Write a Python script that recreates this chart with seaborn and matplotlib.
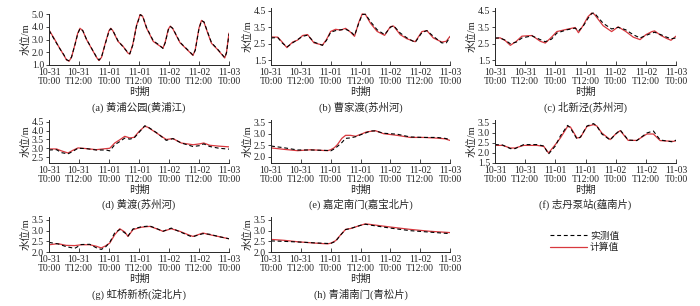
import matplotlib
matplotlib.use("Agg")
import matplotlib.pyplot as plt
from matplotlib.lines import Line2D
import seaborn as sns

# ---------------- data (hours since 10-31 T0:00, water level m) ----------------
x_ticks = [0, 12, 24, 36, 48, 60, 72]
x_labels = ["10-31\nT0:00", "10-31\nT12:00", "11-01\nT0:00", "11-01\nT12:00",
            "11-02\nT0:00", "11-02\nT12:00", "11-03\nT0:00"]

t_a = [0, 2, 4, 6, 7, 8, 9, 10.5, 11.5, 12.4, 13.5, 15, 17, 19, 20, 21, 22.5, 24, 24.7, 25.5,
       27.6, 29.5, 31.5, 32.3, 33.5, 35, 36.5, 37.5, 39, 41.7, 43.5, 45.6, 46.5, 47.7, 48.5, 49.5,
       52.4, 55, 57.6, 58.5, 60, 61, 62, 63.5, 65, 67.5, 70.3, 71, 72]
calc_a = [3.75, 3.1, 2.4, 1.75, 1.4, 1.3, 1.6, 2.7, 3.5, 3.88, 3.7, 3.0, 2.3, 1.6, 1.35, 1.6, 2.7, 3.7, 3.88, 3.7,
          2.85, 2.5, 1.95, 1.85, 2.6, 4.1, 4.98, 4.8, 3.9, 2.85, 2.6, 2.33, 2.8, 3.8, 4.05, 3.85,
          2.75, 2.25, 1.75, 2.2, 3.9, 4.5, 4.35, 3.5, 2.7, 2.2, 1.55, 2.0, 3.5]
meas_a = [3.72, 3.05, 2.38, 1.78, 1.42, 1.33, 1.62, 2.68, 3.45, 3.85, 3.7, 3.02, 2.32, 1.63, 1.38, 1.62, 2.65, 3.65, 3.85, 3.72,
          2.9, 2.45, 2.0, 1.88, 2.55, 4.05, 4.95, 4.82, 3.95, 2.9, 2.65, 2.3, 2.75, 3.75, 4.02, 3.88,
          2.78, 2.28, 1.78, 2.15, 3.85, 4.48, 4.38, 3.55, 2.75, 2.22, 1.58, 1.95, 3.45]

t_b = [0, 2.7, 4.5, 6.4, 8.7, 10.7, 12.7, 14.7, 17.3, 20.7, 22.3, 24, 26, 28, 30, 32, 33.6, 35.3, 36.7, 38,
       40, 42.7, 45.7, 48, 49.3, 52, 54.7, 58, 60.7, 62.7, 65.3, 68.7, 70.5, 72]
calc_b = [2.91, 2.9, 2.6, 2.26, 2.6, 2.72, 3.0, 3.06, 2.55, 2.42, 2.75, 3.25, 3.38, 3.33, 3.44, 3.2, 2.95, 3.8, 4.32, 4.28,
          3.75, 3.25, 3.01, 3.54, 3.58, 3.05, 2.8, 2.62, 3.24, 3.3, 2.85, 2.6, 2.65, 2.95]
meas_b = [2.85, 2.88, 2.55, 2.3, 2.55, 2.75, 2.95, 3.02, 2.6, 2.4, 2.7, 3.2, 3.3, 3.35, 3.38, 3.25, 3.0, 3.75, 4.28, 4.3,
          3.85, 3.35, 3.05, 3.5, 3.6, 3.15, 2.85, 2.58, 3.18, 3.3, 2.95, 2.55, 2.55, 2.9]

t_c = [0, 2, 4, 6.1, 8.5, 10.7, 14.7, 18, 20, 22.5, 24.6, 28.6, 31.9, 33.2, 35, 37, 38.5, 39.5, 43, 46.4,
       49, 52, 55, 57.7, 60, 62.4, 63.5, 66, 68.3, 70, 72]
calc_c = [2.82, 2.86, 2.7, 2.4, 2.65, 2.96, 3.0, 2.65, 2.54, 2.9, 3.24, 3.38, 3.49, 3.17, 3.6, 4.15, 4.37, 4.3, 3.6, 3.24,
          3.53, 3.25, 2.9, 2.75, 3.05, 3.24, 3.28, 3.0, 2.82, 2.71, 2.96]
meas_c = [2.85, 2.85, 2.72, 2.5, 2.6, 2.85, 2.98, 2.75, 2.62, 2.78, 3.15, 3.35, 3.45, 3.28, 3.55, 4.05, 4.35, 4.38, 3.75, 3.4,
          3.5, 3.35, 3.05, 2.85, 3.0, 3.15, 3.2, 3.05, 2.9, 2.8, 2.85]

t_d = [0, 3, 5, 7.6, 9.5, 11.6, 14.9, 18.9, 22.9, 24.3, 26.3, 28.5, 30.3, 32.3, 34, 36, 38.3, 39.5, 42.9, 46.9,
       49.6, 52.9, 57.6, 60.3, 61.9, 64.3, 68, 72]
calc_d = [2.96, 2.96, 2.85, 2.73, 2.88, 3.02, 2.98, 2.92, 2.98, 3.0, 3.3, 3.5, 3.68, 3.59, 3.62, 3.95, 4.25, 4.2, 3.88, 3.5,
          3.55, 3.3, 3.2, 3.25, 3.3, 3.17, 3.12, 3.08]
meas_d = [2.9, 2.92, 2.75, 2.68, 2.82, 3.0, 2.98, 2.9, 2.9, 2.85, 3.2, 3.4, 3.58, 3.52, 3.58, 3.9, 4.28, 4.22, 3.9, 3.45,
          3.55, 3.3, 3.1, 3.15, 3.25, 3.1, 3.0, 2.95]

t_e = [0, 5, 10.7, 16, 22.7, 24, 25.5, 26.7, 28.5, 30, 32, 34, 36.7, 38.5, 40, 42, 45.3, 50.7, 56, 61.3, 66.7, 70, 72]
calc_e = [2.39, 2.33, 2.27, 2.31, 2.27, 2.31, 2.4, 2.53, 2.8, 2.93, 2.93, 2.89, 3.0, 3.08, 3.1, 3.13, 3.0, 2.93, 2.84, 2.84,
          2.81, 2.78, 2.71]
meas_e = [2.47, 2.4, 2.3, 2.3, 2.28, 2.26, 2.35, 2.45, 2.62, 2.8, 2.82, 2.87, 2.98, 3.05, 3.12, 3.12, 3.02, 2.98, 2.86, 2.84,
          2.84, 2.8, 2.75]

t_f = [0, 3, 6.1, 8, 11.4, 16.7, 19.4, 21.3, 24, 26, 28.9, 30, 32.6, 34, 36.6, 39.2, 40.5, 42.5, 45.8, 48,
       49.8, 53, 56.4, 60.4, 63, 65.7, 71, 72]
calc_f = [2.38, 2.38, 2.25, 2.25, 2.38, 2.38, 2.33, 2.0, 2.42, 2.75, 3.33, 3.3, 2.75, 2.78, 3.33, 3.42, 3.35, 3.0, 2.67, 2.95,
          3.12, 2.63, 2.63, 2.95, 2.95, 2.62, 2.58, 2.62]
meas_f = [2.42, 2.4, 2.22, 2.22, 2.42, 2.42, 2.35, 1.95, 2.35, 2.85, 3.38, 3.25, 2.7, 2.8, 3.35, 3.47, 3.35, 2.95, 2.65, 2.95,
          3.15, 2.65, 2.62, 3.0, 3.1, 2.65, 2.55, 2.65]

t_g = [0, 3.6, 6.9, 10.3, 12.9, 16.3, 18.9, 20.9, 22.5, 24.3, 26.3, 28.3, 30.3, 31.6, 33.6, 36.9, 40.3, 43, 45.6, 48.9,
       52.3, 56.3, 57.6, 61.6, 64.3, 68, 72]
calc_g = [2.34, 2.39, 2.31, 2.3, 2.34, 2.34, 2.27, 2.19, 2.28, 2.42, 2.81, 3.09, 2.94, 2.73, 3.05, 3.16, 3.2, 3.09, 2.97, 3.09,
          2.97, 2.78, 2.73, 2.89, 2.81, 2.72, 2.62]
meas_g = [2.45, 2.38, 2.25, 2.17, 2.35, 2.36, 2.2, 2.12, 2.22, 2.45, 2.9, 3.05, 2.9, 2.75, 3.08, 3.18, 3.22, 3.1, 2.97, 3.12,
          2.95, 2.75, 2.72, 2.86, 2.83, 2.72, 2.62]

t_h = [0, 5, 10.7, 17.3, 22.7, 24, 26, 28, 30, 32, 36, 38, 40, 48, 56, 64, 72]
calc_h = [2.59, 2.55, 2.48, 2.42, 2.38, 2.41, 2.53, 2.8, 3.06, 3.1, 3.25, 3.32, 3.29, 3.17, 3.06, 2.97, 2.91]
meas_h = [2.52, 2.5, 2.47, 2.43, 2.4, 2.4, 2.5, 2.8, 3.05, 3.1, 3.25, 3.3, 3.26, 3.12, 3.0, 2.93, 2.86]

captions = ["(a) 黄浦公园(黄浦江)", "(b) 曹家渡(苏州河)", "(c) 北新泾(苏州河)",
            "(d) 黄渡(苏州河)", "(e) 嘉定南门(嘉宝北片)", "(f) 志丹泵站(蕴南片)",
            "(g) 虹桥新桥(淀北片)", "(h) 青浦南门(青松片)"]
legend_labels = ["实测值", "计算值"]

# ---------------- style ----------------
sns.set_style("ticks")
plt.rcParams["font.family"] = ["Liberation Serif", "Noto Sans CJK SC"]
plt.rcParams["axes.linewidth"] = 0.7

RED = "#d8383e"
DASH = (0, (3.5, 2.5))

W, H = 700, 306
fig = plt.figure(figsize=(W / 100, H / 100), dpi=100)


def rect(l, r, top, bot):
    return [l / W, 1 - bot / H, (r - l) / W, (bot - top) / H]


cols = [(49, 229), (271, 450), (495, 676)]
rows = [(8, 65, 107), (120, 163, 204), (217, 252, 294)]

panels = [
    (t_a, meas_a, calc_a, (1.0, 5.0), [1.0, 2.0, 3.0, 4.0, 5.0], 0, 0, 14),
    (t_b, meas_b, calc_b, (1.2, 4.68), [1.5, 2.5, 3.5, 4.5], 0, 1, 8),
    (t_c, meas_c, calc_c, (1.2, 4.68), [1.5, 2.5, 3.5, 4.5], 0, 2, 8),
    (t_d, meas_d, calc_d, (2.16, 4.61), [2.5, 3.0, 3.5, 4.0, 4.5], 1, 0, 120),
    (t_e, meas_e, calc_e, (1.74, 3.59), [2.0, 2.5, 3.0, 3.5], 1, 1, 120),
    (t_f, meas_f, calc_f, (1.5, 3.65), [1.5, 2.0, 2.5, 3.0, 3.5], 1, 2, 120),
    (t_g, meas_g, calc_g, (2.0, 3.64), [2.0, 2.5, 3.0, 3.5], 2, 0, 217),
    (t_h, meas_h, calc_h, (2.0, 3.64), [2.0, 2.5, 3.0, 3.5], 2, 1, 217),
]

for i, (t, meas, calc, ylim, yt, r, c, top) in enumerate(panels):
    l, rr = cols[c]
    _, bot, cap_y = rows[r]
    ax = fig.add_axes(rect(l, rr, top, bot))
    ax.set_facecolor("white")
    sns.lineplot(x=t, y=calc, ax=ax, color=RED, linewidth=0.9, estimator=None)
    sns.lineplot(x=t, y=meas, ax=ax, color="black", linewidth=0.8, linestyle=DASH, estimator=None)
    ax.set_xlim(0, 72)
    ax.set_ylim(*ylim)
    ax.set_xticks(x_ticks)
    ax.set_xticklabels(x_labels, linespacing=1.0)
    ax.set_yticks(yt)
    ax.set_yticklabels([f"{v:.1f}" for v in yt])
    sns.despine(ax=ax)
    ax.tick_params(axis="x", direction="in", length=3, width=0.6, pad=2.5, labelsize=7)
    ax.tick_params(axis="y", direction="out", length=2.5, width=0.6, pad=1, labelsize=7)
    ax.set_xlabel("时期", fontsize=7.5, labelpad=0.5)
    ax.set_ylabel("水位/m", fontsize=7.5, labelpad=1)
    fig.text((l + rr) / 2 / W, 1 - cap_y / H, captions[i], ha="center", va="center", fontsize=7.5)

handles = [Line2D([], [], color="black", linewidth=0.8, linestyle=DASH),
           Line2D([], [], color=RED, linewidth=0.9)]
fig.legend(handles, legend_labels, loc="center left", bbox_to_anchor=(550 / W, 1 - 242 / H),
           frameon=False, fontsize=7, handlelength=3.8, handletextpad=0.3,
           labelspacing=0.25, borderpad=0, borderaxespad=0)

fig.savefig("out.png", dpi=100, facecolor="white")
